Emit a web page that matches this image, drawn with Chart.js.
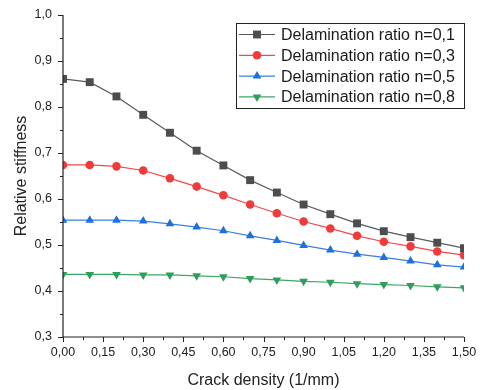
<!DOCTYPE html>
<html>
<head>
<meta charset="utf-8">
<script src="https://cdn.jsdelivr.net/npm/chart.js@4.4.1/dist/chart.umd.min.js"></script>
<style>
html,body{margin:0;padding:0;background:#fff;}
#wrap{width:480px;height:390px;position:relative;}
</style>
</head>
<body>
<div id="wrap"><canvas id="c" width="480" height="390"></canvas></div>
<script>
const crackDensity = [0.0,0.1,0.2,0.3,0.4,0.5,0.6,0.7,0.8,0.9,1.0,1.1,1.2,1.3,1.4,1.5];
const stiffN01 = [0.861,0.854,0.823,0.783,0.744,0.705,0.673,0.641,0.614,0.588,0.567,0.547,0.530,0.517,0.505,0.493];
const stiffN03 = [0.674,0.674,0.671,0.662,0.645,0.627,0.608,0.588,0.569,0.551,0.536,0.520,0.507,0.497,0.486,0.478];
const stiffN05 = [0.554,0.554,0.554,0.552,0.546,0.539,0.531,0.520,0.510,0.499,0.489,0.480,0.473,0.465,0.457,0.452];
const stiffN08 = [0.436,0.436,0.436,0.435,0.435,0.433,0.431,0.427,0.424,0.421,0.419,0.416,0.414,0.412,0.409,0.407];
const seriesLabels = ["Delamination ratio n=0,1","Delamination ratio n=0,3","Delamination ratio n=0,5","Delamination ratio n=0,8"];
const xTitle = "Crack density (1/mm)";
const yTitle = "Relative stiffness";

const FONT = "'Liberation Sans', Arial, sans-serif";
const toPts = arr => arr.map((v,i)=>({x:crackDensity[i], y:v}));

const styles = [
  {color:'#4d4d4d', line:'#5a5a5a', style:'rect', r:5.6, rot:0},
  {color:'#ef3b3b', line:'#f04a4a', style:'circle', r:4.3, rot:0},
  {color:'#1f6fde', line:'#3a7fe0', style:'triangle', r:5, rot:0},
  {color:'#2f9e5a', line:'#3aa862', style:'triangle', r:5, rot:180}
];
const seriesData = [stiffN01, stiffN03, stiffN05, stiffN08];

const datasets = seriesData.map((d,i)=>({
  label: seriesLabels[i],
  data: toPts(d),
  borderColor: styles[i].line,
  backgroundColor: styles[i].color,
  pointBackgroundColor: styles[i].color,
  pointBorderColor: styles[i].color,
  pointBorderWidth: 0,
  pointStyle: styles[i].style,
  pointRotation: styles[i].rot,
  pointRadius: styles[i].r,
  borderWidth: 1.2,
  tension: 0
}));

const axisPlugin = {
  id:'axisPlugin',
  afterDraw(chart){
    const ctx = chart.ctx, a = chart.chartArea;
    const xs = chart.scales.x, ys = chart.scales.y;
    ctx.save();
    ctx.strokeStyle = '#222';
    ctx.lineWidth = 1.2;
    ctx.beginPath();
    ctx.moveTo(a.left, a.top); ctx.lineTo(a.left, a.bottom); ctx.lineTo(a.right, a.bottom);
    ctx.stroke();
    ctx.lineWidth = 1;
    ctx.beginPath();
    for (let k = 0; k <= 20; k++) {
      const v = k*0.075;
      const px = Math.round(xs.getPixelForValue(v)) + 0.5;
      const len = (k % 2 === 0) ? 5 : 3;
      ctx.moveTo(px, a.bottom); ctx.lineTo(px, a.bottom + len);
    }
    for (let k = 0; k <= 14; k++) {
      const v = 0.3 + k*0.05;
      const py = Math.round(ys.getPixelForValue(v)) + 0.5;
      const len = (k % 2 === 0) ? 5 : 3;
      ctx.moveTo(a.left, py); ctx.lineTo(a.left - len, py);
    }
    ctx.stroke();
    ctx.restore();
  },
  afterDatasetsDraw(chart){
    const ctx = chart.ctx;
    const bx = 236, by = 23, bw = 228, bh = 85;
    ctx.save();
    ctx.fillStyle = '#fff';
    ctx.fillRect(bx, by, bw, bh);
    ctx.strokeStyle = '#222';
    ctx.lineWidth = 1;
    ctx.strokeRect(bx+0.5, by+0.5, bw, bh);
    ctx.font = "16px " + FONT;
    ctx.textBaseline = 'middle';
    chart.data.datasets.forEach((ds,i)=>{
      const y = by + 11.5 + i*20.8;
      ctx.strokeStyle = ds.borderColor;
      ctx.lineWidth = 1.2;
      ctx.beginPath(); ctx.moveTo(239, y); ctx.lineTo(275, y); ctx.stroke();
      ctx.fillStyle = ds.pointBackgroundColor;
      Chart.helpers.drawPoint(ctx, {pointStyle: ds.pointStyle, rotation: ds.pointRotation, radius: ds.pointRadius, borderWidth:0}, 257, y);
      ctx.fillStyle = '#1a1a1a';
      ctx.fillText(ds.label, 281, y + 1);
    });
    ctx.restore();
  }
};

new Chart(document.getElementById('c'), {
  type:'line',
  data:{datasets},
  options:{
    responsive:false,
    animation:false,
    layout:{padding:{left:0, right:16, top:15, bottom:0}},
    plugins:{legend:{display:false}, tooltip:{enabled:false}},
    scales:{
      x:{
        type:'linear', min:0, max:1.5,
        grid:{display:false, drawTicks:false},
        border:{display:false},
        ticks:{stepSize:0.15, padding:8, color:'#222', font:{family:FONT, size:12.5},
          maxRotation:0, autoSkip:false,
          callback:v=>v.toFixed(2).replace('.',',')},
        title:{display:true, text:xTitle, color:'#222', font:{family:FONT, size:16}, padding:{top:2,bottom:0}},
        afterFit(s){ s.height = 53; s.paddingLeft = 0; s.paddingRight = 0; }
      },
      y:{
        type:'linear', min:0.3, max:1.0,
        grid:{display:false, drawTicks:false},
        border:{display:false},
        ticks:{stepSize:0.1, padding:11, color:'#222', font:{family:FONT, size:12.5},
          callback:v=>v.toFixed(1).replace('.',',')},
        title:{display:true, text:yTitle, color:'#222', font:{family:FONT, size:16}, padding:{top:12,bottom:0}},
        afterFit(s){ s.width = 63; s.paddingTop = 0; s.paddingBottom = 0; }
      }
    }
  },
  plugins:[axisPlugin]
});
</script>
</body>
</html>
